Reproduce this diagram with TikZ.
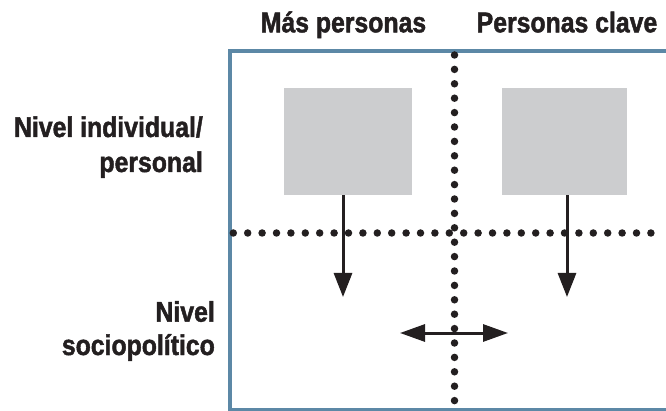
\documentclass[tikz,border=0pt]{standalone}
\usepackage{fontspec}
\setmainfont{Liberation Sans}
\newfontfamily\lblfont[FakeStretch=0.87,FakeBold=1.6]{Liberation Sans Bold}
\usetikzlibrary{arrows.meta}
\definecolor{frameblue}{RGB}{92,136,166}
\definecolor{boxgray}{RGB}{204,205,207}
\definecolor{ink}{RGB}{35,31,32}
\begin{document}
\begin{tikzpicture}[x=1pt,y=-1pt,
  lbl/.style={font=\lblfont\fontsize{28.5}{34}\selectfont, text=ink, inner sep=0pt},
  graybox/.style={fill=boxgray, draw=none, inner sep=0pt, anchor=north west, minimum height=107pt},
  dotline/.style={draw=ink, line width=7.5pt, line cap=round, dash pattern=on 0pt off 14.4pt},
  arr/.style={draw=ink, line width=3pt, -{Triangle[length=24pt,width=18pt]}},
  darr/.style={draw=ink, line width=3pt, {Triangle[length=25pt,width=17pt]}-{Triangle[length=25pt,width=17pt]}}]
\useasboundingbox (0,0) rectangle (666,411);
% frame
\draw[frameblue, line width=3.2pt] (230,51) rectangle (690,410);
% dotted dividers
\coordinate (vtop) at (454.5,55);
\coordinate (vbot) at (454.5,409);
\coordinate (hleft) at (233.3,233);
\coordinate (hright) at (652,233);
\draw[dotline] (vtop) -- (vbot);
\draw[dotline] (hleft) -- (hright);
% boxes
\node[graybox, minimum width=128pt] (b1) at (284,88) {};
\node[graybox, minimum width=125pt] (b2) at (502,88) {};
% arrows
\coordinate (t1) at (343,297);
\coordinate (t2) at (567,297);
\draw[arr] (b1.south -| t1) -- (t1);
\draw[arr] (b2.south -| t2) -- (t2);
\coordinate (dl) at (400,333);
\coordinate (dr) at (508,333);
\draw[darr] (dl) -- (dr);
% labels
\node[lbl, anchor=base] (more) at (343.5,32.3) {Más personas};
\node[lbl, anchor=base] (key) at (567,32.3) {Personas clave};
\node[lbl, anchor=base east] (ind1) at (203,137) {Nivel individual/};
\node[lbl, anchor=base east] (ind2) at (203,172) {personal};
\node[lbl, anchor=base east] (soc1) at (215,321.7) {Nivel};
\node[lbl, anchor=base east] (soc2) at (215,355) {sociopolítico};
\end{tikzpicture}
\end{document}
